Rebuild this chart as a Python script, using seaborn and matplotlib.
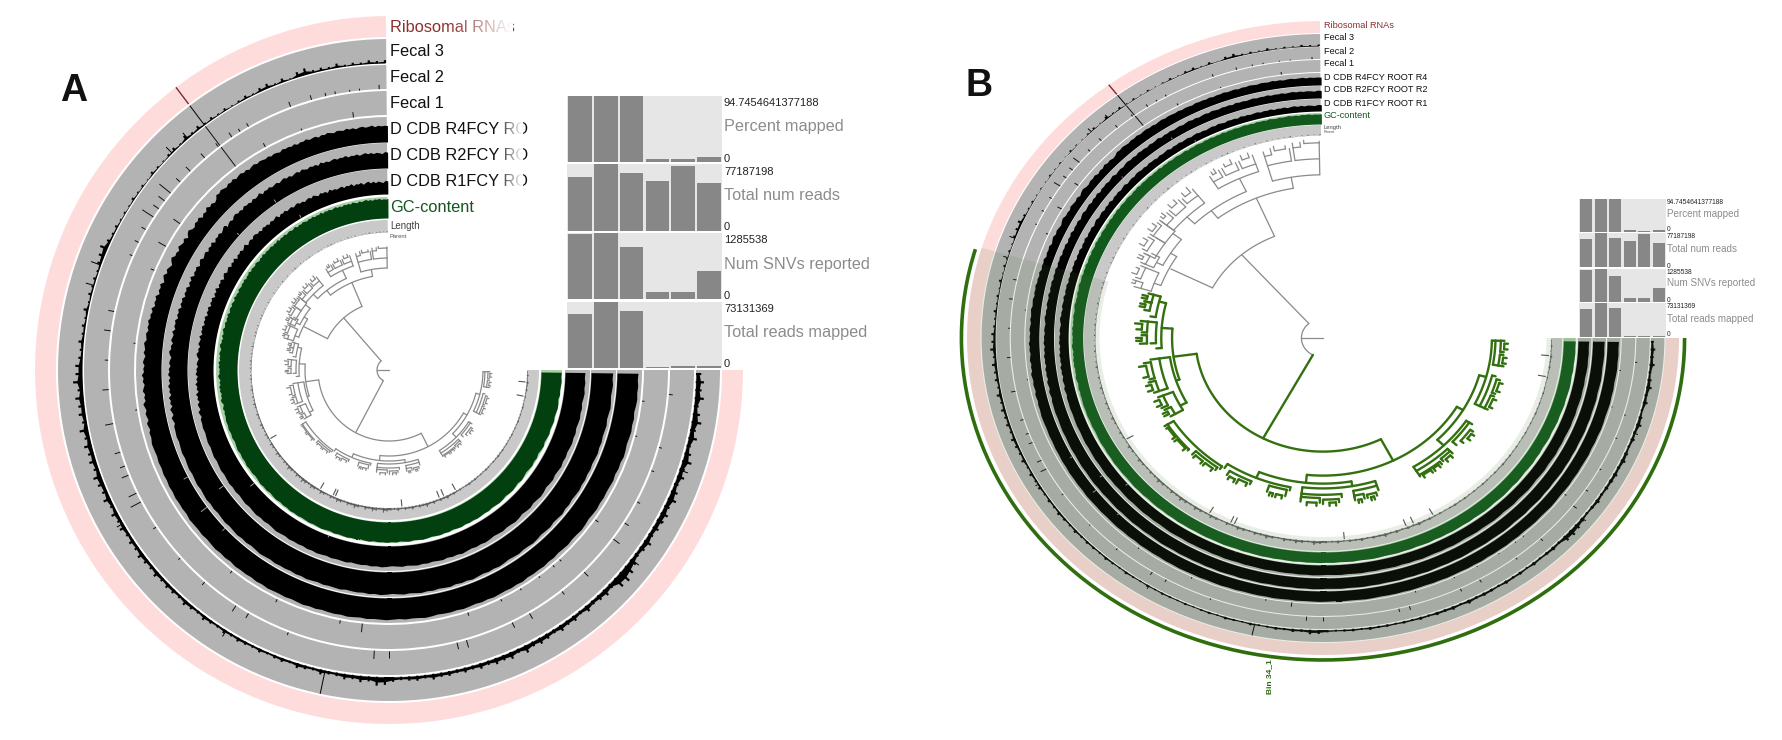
import numpy as np
import pandas as pd
import matplotlib
matplotlib.use("Agg")
import matplotlib.pyplot as plt
import seaborn as sns

W, H = 1782, 740

# layer profiles, percent of ring height, one value per 1.5 degrees from east, clockwise
fecal3 = [22,34,26,38,20,30,41,24,36,18,28,40,22,31,19,29,37,24,33,27,
          27,21,33,24,18,30,42,52,48,21,30,24,18,27,15,24,20,27,17,23,
          27,21,33,18,30,23,27,18,24,17,21,15,20,18,24,15,21,18,14,20,
          33,37,21,27,18,23,15,14,21,12,16,21,11,17,14,10,16,11,14,17,
          12,17,11,14,20,12,16,22,14,18,20,16,24,17,20,26,18,22,16,25,
          18,27,16,30,21,26,33,20,28,23,31,21,35,18,27,24,33,21,38,27,
          28,16,12,20,10,14,8,18,6,13,9,11,7,16,22,30,14,8,10,5,
          6,4,9,5,7,3,10,6,4,8,12,5,18,8,14,6,10,5,9,4,
          7,12,5,14,18,6,15,4,20,26,10,12,8,16,6,10,7,14,9,12]
r4 = [84,82,85,83,86,84,81,85,83,86,84,82,85,87,83,85,82,86,84,83,
      85,83,86,84,82,85,87,84,83,86,84,82,85,83,86,84,85,83,87,84,
      86,84,85,87,84,86,83,85,87,84,86,85,83,86,88,85,84,86,83,85,
      87,85,84,86,83,85,87,84,86,85,83,86,84,87,85,83,86,84,85,87,
      84,86,83,85,84,86,82,85,83,86,84,82,85,83,84,86,82,84,83,85,
      82,84,81,83,80,82,79,81,83,78]
r2 = [87,85,88,86,84,87,89,86,84,88,86,85,88,86,89,87,85,88,86,89,
      87,90,88,86,89,87,91,88,86,90,88,86,89,91,88,87,90,88,86,89,
      91,88,90,87,89,92,88,90,87,91,89,87,90,88,91,89,87,90,88,86,
      89,91,88,90,87,89,88,86,90,88,87,89,86,88,90,87,89,86,88,87,
      89,86,88,90,87,85,88,86,89,87,85,88,86,84,87,85,88,86,84,87,
      85,83,86,84,82,85,83,81,84,82]
r1 = [80,78,81,79,82,80,77,81,79,82,80,78,82,80,83,81,79,82,80,84,
      81,79,83,81,78,82,84,81,79,83,81,78,82,84,81,80,83,81,79,82,
      84,81,83,80,82,85,81,83,80,84,82,80,83,81,84,82,80,83,81,79,
      82,84,81,83,80,82,81,79,83,81,80,82,79,81,83,80,82,79,81,80,
      82,79,81,83,80,78,81,79,82,80,78,81,79,77,80,78,81,79,77,80,
      78,76,79,77,75,78,76,74,77,75]
gc = [97,95,98,96,94,97,92,96,98,95,93,97,94,92,96,93,90,95,92,88,
      93,90,94,91,88,92,95,90,93,96,94,91,95,97,94,92,96,93,95,97,
      94,96,93,97,95,92,96,94,97,95,93,96,98,95,93,97,95,92,96,94,
      97,95,96,93,97,95,92,96,94,97,95,93,96,92,94,97,95,93,96,94,
      92,95,93,96,92,94,91,95,93,90,94,92,95,91,89,93,91,94,90,92,
      89,93,90,87,91,88,92,89,91,87]
# upper left part of the same layers, finer: one value per 0.75 degrees from 165 degrees on
r4_upper = [80,74,78,81,72,76,79,73,77,82,71,75,70,78,74,69,76,72,79,70,
            73,68,75,71,66,74,69,72,76,67,70,73,65,71,68,74,66,70,64,72,
            60,67,63,70,57,65,61,68,55,63,69,58,66,60,54,64,70,59,62,56,
            67,61,57,65,52,63,68,58,55,64,60,66,53,62,57,69,59,64,56,61,
            74,70,76,72,68,75,71,77,69,73,76,70,74,67,72,75,69,73,71,68,
            72,66,70,68,64,71,67,69,65,70,63,68,66,71,64,67,69,62,68,65,
            70,66,63,69,67,64,70,65,68,62,67,69,64,66,70,63,68,65,67,66]
r2_upper = [82,76,80,84,74,78,83,72,79,75,81,70,77,73,80,71,76,69,78,72,
            75,68,74,71,66,73,77,69,72,65,74,70,67,75,64,71,68,73,63,70,
            66,72,61,69,65,71,60,68,64,70,58,67,62,72,59,66,63,69,57,65,
            70,60,64,68,58,66,61,69,56,65,62,67,59,64,70,57,63,66,60,68,
            71,64,68,62,70,65,67,61,69,63,66,72,60,67,64,69,62,65,68,61,
            66,70,63,67,60,65,68,62,69,64,61,67,63,66,59,68,62,65,60,64,
            67,61,65,63,68,60,64,62,66,59,63,67,61,65,60,64,62,58,66,63]
r1_upper = [76,70,74,78,68,72,75,66,73,69,76,64,71,67,74,65,70,63,72,66,
            69,62,68,65,60,67,71,63,66,59,68,64,61,69,58,65,62,67,57,64,
            60,66,55,63,59,65,54,62,58,64,52,61,56,66,53,60,57,63,51,59,
            64,54,58,62,52,60,55,63,50,59,56,61,53,58,64,51,57,60,54,62,
            61,55,59,52,60,56,58,51,59,54,57,62,50,58,55,60,53,56,59,52,
            57,60,53,56,50,55,58,52,59,54,49,57,53,55,48,58,51,54,49,53,
            56,48,54,51,57,47,53,50,55,46,52,56,48,54,47,53,50,46,55,52]
gc_upper = [88,84,90,86,82,89,92,85,87,83,90,86,91,84,88,82,89,93,85,87,
            84,90,86,92,83,88,85,91,87,84,90,93,86,88,83,91,85,89,94,86,
            88,92,85,90,87,93,84,89,91,86,92,88,85,94,87,90,84,92,89,86,
            91,87,93,85,90,88,94,86,92,89,87,93,90,85,91,88,95,87,92,89,
            90,93,87,91,88,95,86,92,89,94,87,91,93,88,90,95,86,92,89,94,
            91,87,93,90,95,88,92,89,96,87,93,90,94,88,91,95,89,92,87,94,
            90,93,88,95,91,87,94,89,92,96,90,93,88,94,91,95,89,92,90,93]
length_layer = [8,14,6,20,10,16,7,12,5,9,14,6,11,8,15,7,10,6,13,9,
                7,12,8,15,10,18,9,14,7,12,16,8,13,9,18,11,20,14,9,16,
                12,22,15,30,18,25,14,28,16,35,20,26,14,30,18,24,12,28,16,22,
                30,40,18,28,36,20,32,15,25,38,22,30,16,26,34,18,28,14,24,32,
                16,26,34,18,28,38,20,30,16,24,34,18,22,14,20,28,12,18,24,10,
                16,20,10,15,22,9,14,18,8,12,20,9,13,7,16,10,6,12,8,5,
                10,7,12,6,9,5,11,7,4,8,10,5,8,4,7,9,5,6,4,8,
                5,3,7,4,6,3,8,4,6,3,5,9,4,6,3,5,7,4,3,6,
                4,3,6,8,4,3,5,3,7,4,6,3,5,4,8,3,5,6,4,7]

# narrow spikes: angle in degrees, percent of ring height
fecal3_spikes = [(233,100),(102,100),(229,30),(225,34),(200,42),(196,35),(150,30),(122,30),(38,42),(29,30),(19,38)]
fecal2_spikes = [(268,18),(264,8),(262,8),(259,12),(257,14),(254,20),(249.5,22),(240,16),(238,14),(236,22),(233,100),
                 (232.6,18),(229,24),(225,26),(222,22),(219,60),(217,32),(215,28),(213,55),(210,20),(207,18),(204,12),
                 (192,25),(188,28),(182,14),(176,26),(169,34),(163,24),(160,22),(158,30),(154,36),(152,48),(146,14),
                 (138,10),(131,16),(123,28),(120,22),(111,12),(93,35),(90,30),(76,28),(74,32),(64,24),(60,26),(52,16),
                 (46,24),(37,32),(33,20),(28,14),(21,12),(16,12),(5,16)]
fecal1_spikes = [(262,22),(250,8),(241,18),(233,100),(215,34),(209,36),(203,16),(186,8),(171,8),(96,36),(101,14),
                 (116,14),(128,12),(72,14),(64,10),(59,8),(54,8),(50,10),(48,10),(36,16),(15,8),(7,10)]
r4_notches = [(143,30),(152,18),(136,14)]
r2_notches = [(236,14),(222,10),(145,22)]
r1_notches = [(240,12),(140,20),(110,8)]
parent_ticks = [84.6,120,114,113,68.5,66.5,61,5,11,150]
rib_ticks = [233]

# the four bar layers above the rings
sample_names = ["s1", "s2", "s3", "s4", "s5", "s6"]
percent_mapped = [94.7, 94.7, 94.7, 4.5, 4.2, 6.5]
total_num_reads = [62500000, 77187198, 66400000, 57900000, 75000000, 55600000]
num_snvs = [1266000, 1285538, 1015000, 141000, 141000, 553000]
total_reads_mapped = [60000000, 73131369, 62900000, 1300000, 1900000, 2700000]
bar_layers = [("Percent mapped", "94.7454641377188", percent_mapped),
              ("Total num reads", "77187198", total_num_reads),
              ("Num SNVs reported", "1285538", num_snvs),
              ("Total reads mapped", "73131369", total_reads_mapped)]

# dendrogram: angle0, angle1, arc radius, radius reached at angle0, radius reached at angle1
tree_upper = [(207,247,69,95,95),(200,212,96,100,100),(197,204,100,106,108),(207,218,100,104,106),
              (205,209,104,110,109),(208,214,106,112,112),(214,219,106,114,117),(197,199,106,110,110),
              (200,204,108,111,111),(205,208,109,112,113),(209,213,112,115,116),(214,218,114,116,117),
              (232,260,95,101,102),(225,245,101,107,110),(219,232,107,112,113),(238,251,110,115,115),
              (219,222,112,116,117),(223,227,112,117,118),(228,232,113,117,118),(238,241,115,119,120),
              (242,246,115,120,120),(247,251,115,120,121),(254,269,102,112,112),(254,261,112,118,120),
              (262,269,112,120,122),(254,256,118,121,122),(257,260,120,123,122),(262,264,120,123,123),
              (265,269,122,124,123),(220,221,116,118,119),(224,226,117,120,120),(229,231,117,120,121),
              (239,240,119,121,122),(243,245,120,122,123),(248,250,120,123,123),(198,199,110,112,112),
              (201,203,111,114,113),(206,207,112,115,115),(210,212,115,118,118),(215,217,116,119,119)]
tree_lower = [(63,172,71,86,84),(162,184,84,86,90),(176,194,90,93,94),(188,196,94,97,98),(178,186,93,96,98),
              (190,193,98,101,102),(193,196,98,102,101),(178,181,98,102,101),(182,186,98,101,102),
              (152,172,86,90,92),(150,158,90,95,96),(160,172,92,96,97),(150,153,95,98,99),(154,158,96,100,99),
              (160,164,97,100,101),(165,171,97,100,101),(30,96,86,90,91),(80,113,91,94,95),(101,124,95,97,98),
              (102,108,97,101,101),(114,122,98,100,101),(125,148,98,100,102),(126,135,100,102,103),
              (137,148,102,103,104),(72,97,94,97,98),(72,80,97,100,101),(84,97,98,100,101),(73,76,101,103,103),
              (77,80,100,103,103),(85,90,101,103,104),(91,97,100,103,103),(15,45,90,94,95),(33,58,95,97,98),
              (45,58,98,100,101),(33,42,97,99,100),(50,58,101,103,102),(45,49,100,102,102),(35,40,100,102,102),
              (1,26,94,96,97),(1,10,96,99,99),(14,26,97,99,100),(1,5,99,101,101),(6,10,99,101,102),
              (15,20,100,102,102),(21,26,100,102,102),(151,152,98,101,101),(155,157,99,102,102),
              (161,163,100,103,103),(166,170,100,103,104),(179,180,101,104,104),(183,185,101,104,105),
              (191,192,101,104,104),(194,195,101,104,104),(127,130,102,104,104),(131,134,102,104,104),
              (138,142,103,105,105),(143,147,103,105,104),(103,105,101,103,103),(106,107,101,103,103),
              (115,118,100,102,103),(119,121,101,103,103),(74,75,103,105,105),(78,79,103,105,105),
              (86,88,103,105,105),(92,95,103,105,105),(36,38,102,104,104),(46,48,102,104,104),
              (51,53,102,104,104),(54,57,102,104,104),(2,4,101,103,103),(7,9,101,103,103),
              (16,19,102,104,104),(22,25,102,104,104)]

ring_labels = ["Ribosomal RNAs", "Fecal 3", "Fecal 2", "Fecal 1", "D CDB R4FCY ROOT R4", "D CDB R2FCY ROOT R2",
               "D CDB R1FCY ROOT R1", "GC-content", "Length", "Parent"]
cut_labels = ["Ribosomal RNAs", "Fecal 3", "Fecal 2", "Fecal 1", "D CDB R4FCY RO", "D CDB R2FCY RO",
              "D CDB R1FCY RO", "GC-content", "Length", "Parent"]
label_colors = ["#8c2f2f", "#111111", "#111111", "#111111", "#111111", "#111111", "#111111", "#14561f", "#444444", "#555555"]

sns.set_theme(style="white")
plt.rcParams["font.family"] = ["Liberation Sans", "DejaVu Sans"]

fig = plt.figure(figsize=(W / 100, H / 100), dpi=100, facecolor="white")


def px_rect(x0, y0, x1, y1):
    return [x0 / W, 1 - y1 / H, (x1 - x0) / W, (y1 - y0) / H]


def put(x, y, s, **kw):
    kw.setdefault("va", "center")
    fig.text(x / W, 1 - y / H, s, **kw)


theta = np.radians(np.arange(len(fecal3)) * 1.5 + 0.75)
theta_lower = np.radians(np.arange(len(r4)) * 1.5 + 0.75)
theta_upper = np.radians(165 + np.arange(len(r4_upper)) * 0.75 + 0.375)
theta_both = np.concatenate([theta_lower, theta_upper])
full_span = np.radians(269.5)


def band(ax, r0, r1, color, z=1):
    ax.bar(full_span / 2, r1 - r0, width=full_span, bottom=r0, color=color, linewidth=0, zorder=z)


def profile(ax, r0, r1, vals, color, angles=theta):
    top = r0 + (r1 - r0) * np.array(vals) / 100
    ax.fill_between(angles, r0, top, color=color, linewidth=0, zorder=2)


def comb(ax, r0, r1, vals, color):
    ax.bar(theta, (r1 - r0) * np.array(vals) / 100, width=np.radians(0.4), bottom=r0, color=color, linewidth=0, zorder=2)


def spikes(ax, r0, r1, pairs, color, lw=0.7):
    for ang, pct in pairs:
        a = np.radians(ang)
        ax.plot([a, a], [r0, r0 + (r1 - r0) * pct / 100], color=color, lw=lw, zorder=3, solid_capstyle="butt")


def draw_u(ax, nodes, scale, color, lw):
    for a0, a1, r, r0, r1 in nodes:
        arc = np.radians(np.linspace(a0, a1, max(3, int(abs(a1 - a0)) + 2)))
        ax.plot(arc, np.full(arc.shape, r * scale), color=color, lw=lw, zorder=4)
        ax.plot(np.radians([a0, a0]), [r * scale, r0 * scale], color=color, lw=lw, zorder=4)
        ax.plot(np.radians([a1, a1]), [r * scale, r1 * scale], color=color, lw=lw, zorder=4)


def draw_circle(cx, cy, stretch, radii, tree_scale, fill_gc, lower_color, lower_lw):
    lim = 375
    ax = fig.add_axes(px_rect(cx - lim * stretch, cy - lim, cx + lim * stretch, cy + lim), projection="polar")
    ax.set_aspect("auto")
    ax.set_theta_zero_location("E")
    ax.set_theta_direction(-1)
    ax.set_ylim(0, lim)
    ax.axis("off")
    ax.patch.set_alpha(0)

    band(ax, *radii[0], "#ffdcdc")
    for i in (1, 2, 3, 4, 5, 6):
        band(ax, *radii[i], "#b3b3b3")
    band(ax, *radii[7], "#a9cfa9")
    band(ax, *radii[8], "#c9c9c9")

    spikes(ax, *radii[0], [(a, 100) for a in rib_ticks], "#7d2b35", 1.0)
    profile(ax, radii[1][0], radii[1][0] + (radii[1][1] - radii[1][0]) * 0.6, fecal3, "black")
    comb(ax, *radii[1], fecal3, "black")
    spikes(ax, *radii[1], fecal3_spikes, "black")
    spikes(ax, *radii[2], fecal2_spikes, "#111111")
    spikes(ax, *radii[3], fecal1_spikes, "#111111")
    for i, vals, upper, notch in ((4, r4, r4_upper, r4_notches), (5, r2, r2_upper, r2_notches), (6, r1, r1_upper, r1_notches)):
        profile(ax, *radii[i], vals + upper, "black", theta_both)
        spikes(ax, *radii[i], notch, "#9a9a9a")
    profile(ax, *radii[7], gc + gc_upper, fill_gc, theta_both)
    profile(ax, radii[8][0], radii[8][0] + (radii[8][1] - radii[8][0]) * 0.5, length_layer, "#5c5c5c")
    comb(ax, *radii[8], length_layer, "#5c5c5c")
    pr0 = radii[8][0] - 1
    spikes(ax, pr0 - 7, pr0, [(a, 100) for a in parent_ticks], "#555555", 0.8)

    # dendrogram
    draw_u(ax, tree_upper, tree_scale, "#8a8a8a", 0.9)
    draw_u(ax, tree_lower, tree_scale, lower_color, lower_lw)
    ax.plot(np.radians([180, 180]), [0, 12 * tree_scale], color="#8a8a8a", lw=0.9, zorder=4)
    root = np.radians(np.linspace(118, 229, 40))
    ax.plot(root, np.full(root.shape, 12 * tree_scale), color="#8a8a8a", lw=0.9, zorder=4)
    ax.plot(np.radians([229, 229]), [12 * tree_scale, 69 * tree_scale], color="#8a8a8a", lw=0.9, zorder=4)
    ax.plot(np.radians([118, 118]), [12 * tree_scale, 71 * tree_scale], color=lower_color, lw=lower_lw, zorder=4)
    return ax


def draw_bars(x0, x1, rows, label_x, ys, small, big, bar_width):
    for (name, top_label, vals), (y0, y1), (yv, yn, yz) in zip(bar_layers, rows, ys):
        ax = fig.add_axes(px_rect(x0, y0, x1, y1), facecolor="#e6e6e6")
        df = pd.DataFrame({"sample": sample_names, "value": vals})
        sns.barplot(data=df, x="sample", y="value", color="#878787", saturation=1, width=bar_width, linewidth=0, ax=ax)
        ax.set_ylim(0, max(vals))
        ax.set_xlim(-0.5, 5.5)
        ax.set_xlabel("")
        ax.set_ylabel("")
        ax.set_xticks([])
        ax.set_yticks([])
        sns.despine(ax=ax, left=True, bottom=True)
        put(label_x, yv, top_label, fontsize=small, color="#222222")
        put(label_x, yn, name, fontsize=big, color="#8c8c8c")
        put(label_x, yz, "0", fontsize=small, color="#222222")


def fade(x0, x1, y0, y1):
    ax = fig.add_axes(px_rect(x0, y0, x1, y1))
    ax.set_zorder(10)
    grad = np.ones((1, 64, 4))
    grad[0, :, 3] = np.linspace(0, 1, 64)
    ax.imshow(grad, aspect="auto", interpolation="bilinear")
    ax.axis("off")


# panel A
radii_a = [(333, 354), (307, 331), (281, 305), (255, 279), (228, 253), (202, 227), (176, 201), (152, 173), (138, 150)]
draw_circle(389, 370, 1.0, radii_a, 1.0, "#024010", "#8a8a8a", 0.9)
label_y_a = [28, 52, 78, 104, 130, 156, 182, 208, 226, 237]
label_size_a = [11.8, 11.8, 11.8, 11.8, 11.8, 11.8, 11.8, 11.8, 7, 4.2]
for s, y, fs, c in zip(cut_labels, label_y_a, label_size_a, label_colors):
    put(390, y, s, fontsize=fs, color=c)
fade(449, 513, 16, 40)
for y in (130, 156, 182):
    fade(497, 523, y - 12, y + 12)
draw_bars(567, 722, [(96, 162), (164, 231), (233, 299), (302, 368)], 724,
          [(103, 126, 159), (172, 195, 227), (240, 264, 296), (309, 333, 364)], 8, 11.7, 0.91)
put(60, 91, "A", fontsize=27, fontweight="bold", color="#111111")

# panel B, stretched sideways like the original
radii_b = [(305, 317), (292, 304), (279, 291), (266, 278), (253, 265), (240, 252), (227, 239), (214, 225), (203, 213)]
ax_b = draw_circle(1323, 338, 1.123, radii_b, 1.6, "#125a1c", "#33700f", 1.7)
span = np.radians(196.5)
ax_b.bar(span / 2, 118, width=span, bottom=199, color="#4f7f3f", alpha=0.13, linewidth=0, zorder=6)
arc_b = np.radians(np.linspace(0, 196, 200))
ax_b.plot(arc_b, np.full(arc_b.shape, 322), color="#2f6e0e", lw=2.6, zorder=6, solid_capstyle="butt")
ax_b.text(np.radians(98.4), 325, "Bin 34_1", rotation=90, fontsize=6, fontweight="bold", color="#2f6e0e", ha="center", va="top", clip_on=False)
label_y_b = [25, 38, 51, 64, 77, 90, 103, 116, 127, 132]
label_size_b = [6.6, 6.6, 6.6, 6.6, 6.6, 6.6, 6.6, 6.6, 4.2, 2.8]
for s, y, fs, c in zip(ring_labels, label_y_b, label_size_b, label_colors):
    put(1324, y, s, fontsize=fs, color=c)
draw_bars(1579, 1666, [(199, 232), (233, 267), (269, 302), (303, 337)], 1667,
          [(202, 214, 230), (237, 249, 266), (272, 283, 300), (307, 319, 335)], 4.8, 7.1, 0.86)
put(966, 86, "B", fontsize=27, fontweight="bold", color="#111111")

fig.savefig("out.png", dpi=100)
